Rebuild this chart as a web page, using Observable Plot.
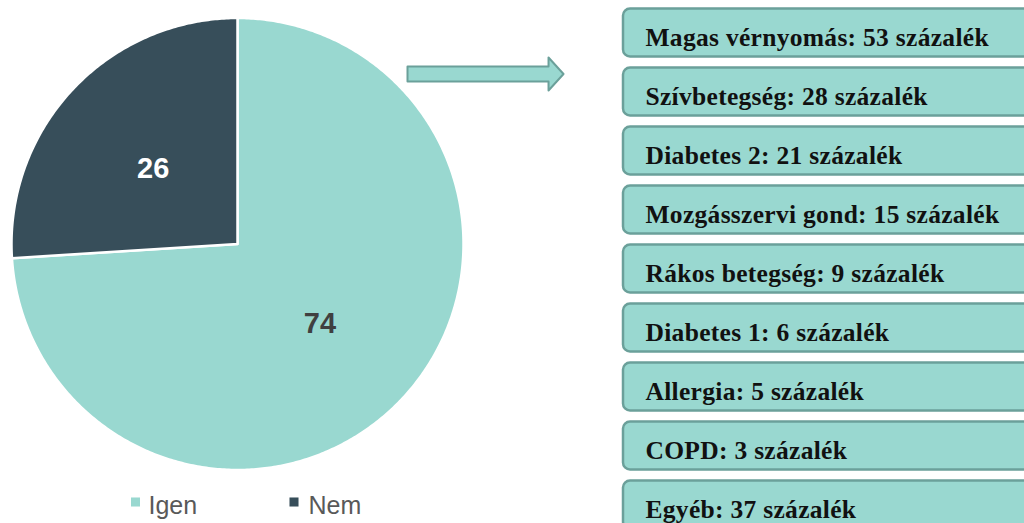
<!DOCTYPE html>
<html><head><meta charset="utf-8">
<script src="https://cdn.jsdelivr.net/npm/d3@7"></script>
<script src="https://cdn.jsdelivr.net/npm/@observablehq/plot@0.6"></script>
<style>
html,body{margin:0;padding:0;background:#fff;overflow:hidden;}
#wrap{position:relative;width:1024px;height:523px;overflow:hidden;}
#wrap > svg{position:absolute;margin:0;max-width:none;}
.boxes text{letter-spacing:0.3px;}
</style></head><body><div id="wrap"></div>
<script>
// ---- data ----
const answers = ["Igen", "Nem"];
const shares = [74, 26];
const answerColors = ["#99d8d0", "#374e5a"];

const conditions = ["Magas vérnyomás", "Szívbetegség", "Diabetes 2", "Mozgásszervi gond", "Rákos betegség", "Diabetes 1", "Allergia", "COPD", "Egyéb"];
const percents = [53, 28, 21, 15, 9, 6, 5, 3, 37];
const unit = "százalék";

// ---- pie geometry from the values ----
const pieData = answers.map((a, i) => ({answer: a, value: shares[i]}));
const arcs = d3.pie().sort(null).value(d => d.value)(pieData);
const slicePts = [];
for (const s of arcs) {
  const n = Math.max(2, Math.ceil((s.endAngle - s.startAngle) / 0.01));
  slicePts.push({answer: s.data.answer, x: 0, y: 0});
  for (let k = 0; k <= n; k++) {
    const a = s.startAngle + (s.endAngle - s.startAngle) * k / n;
    slicePts.push({answer: s.data.answer, x: Math.sin(a), y: Math.cos(a)});
  }
}
const sliceLabels = arcs.map(s => {
  const a = (s.startAngle + s.endAngle) / 2;
  return {answer: s.data.answer, value: s.data.value, x: 0.5 * Math.sin(a), y: 0.5 * Math.cos(a)};
});

const cx = 237, cy = 243.5, R = 226;
const pieW = 480, pieH = 523;
const px2x = px => (px - cx) / R, py2y = py => (cy - py) / R;
const legendSwatchX = [135, 293.5].map(px2x);
const legendTextX = [148, 308].map(px2x);
const legendRows = answers.map((a, i) => ({answer: a, sx: legendSwatchX[i], tx: legendTextX[i]}));

const labelFont = "Liberation Sans, Arial, sans-serif";
const piePlot = Plot.plot({
  width: pieW, height: pieH,
  marginLeft: cx - R, marginRight: pieW - cx - R, marginTop: cy - R, marginBottom: pieH - cy - R,
  x: {domain: [-1, 1], axis: null},
  y: {domain: [-1, 1], axis: null},
  color: {domain: answers, range: answerColors},
  style: {background: "transparent", overflow: "visible"},
  marks: [
    Plot.line(slicePts, {x: "x", y: "y", z: "answer", fill: "answer", stroke: "white", strokeWidth: 2.5, curve: "linear-closed", strokeLinejoin: "round"}),
    Plot.text(sliceLabels.filter(d => d.answer === "Igen"), {x: "x", y: "y", dy: 2, text: d => String(d.value), fill: "#404040", fontSize: 29, fontWeight: "bold", fontFamily: labelFont}),
    Plot.text(sliceLabels.filter(d => d.answer === "Nem"), {x: "x", y: "y", dx: -2, dy: 2, text: d => String(d.value), fill: "#ffffff", fontSize: 29, fontWeight: "bold", fontFamily: labelFont}),
    Plot.dot(legendRows, {x: "sx", y: py2y(501.5), symbol: "square", r: 5.1, fill: "answer"}),
    Plot.text(legendRows, {x: "tx", y: py2y(513), text: "answer", textAnchor: "start", lineAnchor: "bottom", fill: "#595959", fontSize: 25, fontFamily: labelFont})
  ]
});
piePlot.style.left = "0px"; piePlot.style.top = "0px";

// ---- boxes ----
const boxFill = "#99d8d0", boxStroke = "#6ba09a";
const boxPlot = Plot.plot({
  className: "boxes",
  width: 624, height: 523, margin: 0,
  x: {domain: [0, 1], range: [223, 640], axis: null},
  y: {type: "band", domain: conditions, range: [8.5, 528.5], paddingInner: 0.186, paddingOuter: 0, round: false, axis: null},
  style: {background: "transparent", overflow: "visible"},
  marks: [
    Plot.barX(conditions, {x1: 0, x2: 1, y: d => d, fill: boxFill, stroke: boxStroke, strokeWidth: 2.5, rx: 7, ry: 7}),
    Plot.text(conditions, {x: 0, dx: 22, y: d => d, text: (d, i) => `${d}: ${percents[i]} ${unit}`, textAnchor: "start", lineAnchor: "bottom", dy: 13, fill: "#111111", fontSize: 25.5, fontWeight: "bold", fontFamily: "Liberation Serif, Times New Roman, serif"})
  ]
});
boxPlot.style.left = "400px"; boxPlot.style.top = "0px";

// ---- arrow (shape in normalized units) ----
const arrowShape = [
  {x: 0, y: -0.455}, {x: 0.904, y: -0.455}, {x: 0.904, y: -1}, {x: 1, y: 0},
  {x: 0.904, y: 1}, {x: 0.904, y: 0.455}, {x: 0, y: 0.455}
];
const arrowPlot = Plot.plot({
  width: 160, height: 37, margin: 2,
  x: {domain: [0, 1], axis: null},
  y: {domain: [-1, 1], axis: null},
  style: {background: "transparent", overflow: "visible"},
  marks: [
    Plot.line(arrowShape, {x: "x", y: "y", fill: boxFill, stroke: boxStroke, strokeWidth: 2, curve: "linear-closed"})
  ]
});
arrowPlot.style.left = "405px"; arrowPlot.style.top = "55px";

const wrap = document.getElementById("wrap");
wrap.append(piePlot, boxPlot, arrowPlot);
</script></body></html>
